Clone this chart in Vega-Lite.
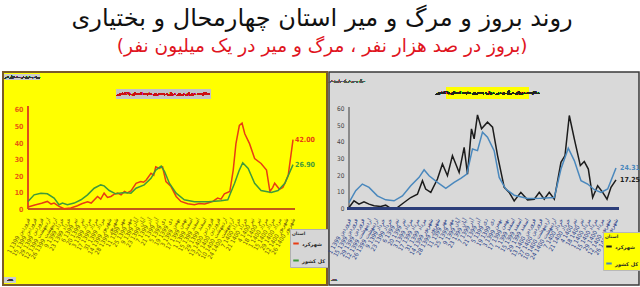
{
  "$schema": "https://vega.github.io/schema/vega-lite/v6.json",
  "background": "white",
  "padding": {"left": 2, "top": 6, "right": 0, "bottom": 0},
  "bounds": "flush",
  "title": {
    "text": "روند بروز و مرگ و میر استان چهارمحال و بختیاری",
    "subtitle": "(بروز در صد هزار نفر ، مرگ و میر در یک میلیون نفر)",
    "font": "DejaVu Sans", "fontSize": 24, "fontWeight": "normal", "color": "#111111",
    "subtitleFont": "DejaVu Sans", "subtitleFontSize": 18.5, "subtitleColor": "#e0141e",
    "subtitlePadding": 6, "anchor": "middle", "offset": 16
  },
  "config": {
    "font": "DejaVu Sans",
    "axis": {"labelFont": "DejaVu Sans Condensed, DejaVu Sans"}
  },
  "datasets": {
    "left": [
      {"s": "شهرکرد", "w": 0, "v": 1.2}, {"s": "شهرکرد", "w": 1.0, "v": 2.4}, {"s": "شهرکرد", "w": 2.0, "v": 3.5}, {"s": "شهرکرد", "w": 2.85, "v": 4.6},
      {"s": "شهرکرد", "w": 3.4, "v": 3.0}, {"s": "شهرکرد", "w": 3.84, "v": 3.6}, {"s": "شهرکرد", "w": 4.57, "v": 1.6}, {"s": "شهرکرد", "w": 5.31, "v": 0.2},
      {"s": "شهرکرد", "w": 6.3, "v": 0.6}, {"s": "شهرکرد", "w": 7.28, "v": 2.0}, {"s": "شهرکرد", "w": 7.9, "v": 3.2}, {"s": "شهرکرد", "w": 8.76, "v": 4.4},
      {"s": "شهرکرد", "w": 9.3, "v": 3.6}, {"s": "شهرکرد", "w": 10.23, "v": 7.6}, {"s": "شهرکرد", "w": 10.7, "v": 6.0}, {"s": "شهرکرد", "w": 11.2, "v": 9.6},
      {"s": "شهرکرد", "w": 11.7, "v": 7.0}, {"s": "شهرکرد", "w": 12.2, "v": 7.6}, {"s": "شهرکرد", "w": 12.7, "v": 9.0}, {"s": "شهرکرد", "w": 13.2, "v": 9.6},
      {"s": "شهرکرد", "w": 13.7, "v": 8.6}, {"s": "شهرکرد", "w": 14.2, "v": 10.6}, {"s": "شهرکرد", "w": 14.6, "v": 9.8}, {"s": "شهرکرد", "w": 15.15, "v": 11.0},
      {"s": "شهرکرد", "w": 15.9, "v": 15.6}, {"s": "شهرکرد", "w": 16.6, "v": 16.6}, {"s": "شهرکرد", "w": 17.0, "v": 16.2}, {"s": "شهرکرد", "w": 17.4, "v": 17.6},
      {"s": "شهرکرد", "w": 18.1, "v": 21.6}, {"s": "شهرکرد", "w": 18.5, "v": 20.5}, {"s": "شهرکرد", "w": 18.8, "v": 25.6}, {"s": "شهرکرد", "w": 19.3, "v": 24.6},
      {"s": "شهرکرد", "w": 19.8, "v": 25.6}, {"s": "شهرکرد", "w": 20.3, "v": 16.6}, {"s": "شهرکرد", "w": 21.05, "v": 13.6}, {"s": "شهرکرد", "w": 21.8, "v": 7.6},
      {"s": "شهرکرد", "w": 22.5, "v": 4.6}, {"s": "شهرکرد", "w": 23.5, "v": 3.2}, {"s": "شهرکرد", "w": 24.5, "v": 2.6}, {"s": "شهرکرد", "w": 25.2, "v": 3.3},
      {"s": "شهرکرد", "w": 26.0, "v": 3.0}, {"s": "شهرکرد", "w": 26.6, "v": 3.8}, {"s": "شهرکرد", "w": 27.2, "v": 4.6}, {"s": "شهرکرد", "w": 27.9, "v": 6.6},
      {"s": "شهرکرد", "w": 28.4, "v": 6.0}, {"s": "شهرکرد", "w": 28.9, "v": 9.2}, {"s": "شهرکرد", "w": 29.7, "v": 10.6}, {"s": "شهرکرد", "w": 30.2, "v": 23.6},
      {"s": "شهرکرد", "w": 30.6, "v": 39.6}, {"s": "شهرکرد", "w": 31.1, "v": 50.6}, {"s": "شهرکرد", "w": 31.5, "v": 52.0}, {"s": "شهرکرد", "w": 31.9, "v": 45.6},
      {"s": "شهرکرد", "w": 32.6, "v": 39.6}, {"s": "شهرکرد", "w": 33.35, "v": 30.6}, {"s": "شهرکرد", "w": 34.3, "v": 27.6}, {"s": "شهرکرد", "w": 35.1, "v": 23.6},
      {"s": "شهرکرد", "w": 35.6, "v": 10.6}, {"s": "شهرکرد", "w": 36.0, "v": 13.0}, {"s": "شهرکرد", "w": 36.3, "v": 15.6}, {"s": "شهرکرد", "w": 37.0, "v": 12.0},
      {"s": "شهرکرد", "w": 37.5, "v": 13.0}, {"s": "شهرکرد", "w": 37.8, "v": 15.6}, {"s": "شهرکرد", "w": 38.3, "v": 20.6}, {"s": "شهرکرد", "w": 39, "v": 42.0},
      {"s": "کل کشور", "w": 0, "v": 4.6}, {"s": "کل کشور", "w": 0.9, "v": 8.6}, {"s": "کل کشور", "w": 1.9, "v": 9.6}, {"s": "کل کشور", "w": 2.85, "v": 9.2},
      {"s": "کل کشور", "w": 3.84, "v": 6.6}, {"s": "کل کشور", "w": 4.57, "v": 2.6}, {"s": "کل کشور", "w": 5.07, "v": 3.6}, {"s": "کل کشور", "w": 5.8, "v": 2.6},
      {"s": "کل کشور", "w": 6.8, "v": 3.6}, {"s": "کل کشور", "w": 7.8, "v": 5.6}, {"s": "کل کشور", "w": 8.76, "v": 8.6}, {"s": "کل کشور", "w": 9.74, "v": 12.6},
      {"s": "کل کشور", "w": 10.7, "v": 14.6}, {"s": "کل کشور", "w": 11.2, "v": 14.0}, {"s": "کل کشور", "w": 11.95, "v": 11.2}, {"s": "کل کشور", "w": 12.9, "v": 9.2},
      {"s": "کل کشور", "w": 14.2, "v": 10.0}, {"s": "کل کشور", "w": 15.15, "v": 9.6}, {"s": "کل کشور", "w": 15.9, "v": 12.6}, {"s": "کل کشور", "w": 17.1, "v": 14.6},
      {"s": "کل کشور", "w": 18.1, "v": 18.6}, {"s": "کل کشور", "w": 18.8, "v": 23.6}, {"s": "کل کشور", "w": 19.6, "v": 26.0}, {"s": "کل کشور", "w": 20.1, "v": 22.6},
      {"s": "کل کشور", "w": 20.8, "v": 15.6}, {"s": "کل کشور", "w": 21.8, "v": 9.6}, {"s": "کل کشور", "w": 23.0, "v": 5.6}, {"s": "کل کشور", "w": 24.5, "v": 4.4},
      {"s": "کل کشور", "w": 26.5, "v": 4.4}, {"s": "کل کشور", "w": 28.4, "v": 5.0}, {"s": "کل کشور", "w": 29.4, "v": 5.6}, {"s": "کل کشور", "w": 30.4, "v": 15.6},
      {"s": "کل کشور", "w": 31.1, "v": 23.6}, {"s": "کل کشور", "w": 31.6, "v": 28.0}, {"s": "کل کشور", "w": 32.4, "v": 24.6}, {"s": "کل کشور", "w": 33.35, "v": 15.6},
      {"s": "کل کشور", "w": 34.3, "v": 11.2}, {"s": "کل کشور", "w": 35.8, "v": 10.0}, {"s": "کل کشور", "w": 36.8, "v": 11.2}, {"s": "کل کشور", "w": 37.8, "v": 15.6},
      {"s": "کل کشور", "w": 39, "v": 26.9}
    ],
    "right": [
      {"s": "شهرکرد", "w": 0, "v": 0.6}, {"s": "شهرکرد", "w": 0.73, "v": 4.6}, {"s": "شهرکرد", "w": 1.46, "v": 2.6}, {"s": "شهرکرد", "w": 2.19, "v": 4.0},
      {"s": "شهرکرد", "w": 2.93, "v": 2.6}, {"s": "شهرکرد", "w": 3.66, "v": 1.6}, {"s": "شهرکرد", "w": 4.63, "v": 1.2}, {"s": "شهرکرد", "w": 5.36, "v": 2.0},
      {"s": "شهرکرد", "w": 6.09, "v": 0.0}, {"s": "شهرکرد", "w": 7.07, "v": 0.6}, {"s": "شهرکرد", "w": 8.04, "v": 3.6}, {"s": "شهرکرد", "w": 9.02, "v": 6.6},
      {"s": "شهرکرد", "w": 10.0, "v": 8.6}, {"s": "شهرکرد", "w": 10.73, "v": 16.7}, {"s": "شهرکرد", "w": 11.2, "v": 11.7}, {"s": "شهرکرد", "w": 11.95, "v": 9.7},
      {"s": "شهرکرد", "w": 12.92, "v": 17.7}, {"s": "شهرکرد", "w": 13.65, "v": 26.8}, {"s": "شهرکرد", "w": 14.38, "v": 19.7}, {"s": "شهرکرد", "w": 15.11, "v": 31.8},
      {"s": "شهرکرد", "w": 16.09, "v": 21.7}, {"s": "شهرکرد", "w": 16.82, "v": 36.8}, {"s": "شهرکرد", "w": 17.31, "v": 20.7}, {"s": "شهرکرد", "w": 17.89, "v": 47.9},
      {"s": "شهرکرد", "w": 18.28, "v": 41.9}, {"s": "شهرکرد", "w": 18.77, "v": 56.3}, {"s": "شهرکرد", "w": 19.36, "v": 47.9}, {"s": "شهرکرد", "w": 20.23, "v": 51.9},
      {"s": "شهرکرد", "w": 20.97, "v": 48.9}, {"s": "شهرکرد", "w": 21.7, "v": 31.8}, {"s": "شهرکرد", "w": 22.67, "v": 12.7}, {"s": "شهرکرد", "w": 23.4, "v": 9.7},
      {"s": "شهرکرد", "w": 24.13, "v": 4.6}, {"s": "شهرکرد", "w": 25.1, "v": 9.7}, {"s": "شهرکرد", "w": 26.08, "v": 5.2}, {"s": "شهرکرد", "w": 27.06, "v": 5.6},
      {"s": "شهرکرد", "w": 27.79, "v": 9.7}, {"s": "شهرکرد", "w": 28.52, "v": 5.6}, {"s": "شهرکرد", "w": 29.25, "v": 9.7}, {"s": "شهرکرد", "w": 29.99, "v": 5.6},
      {"s": "شهرکرد", "w": 30.96, "v": 27.8}, {"s": "شهرکرد", "w": 31.55, "v": 31.8}, {"s": "شهرکرد", "w": 32.18, "v": 55.9}, {"s": "شهرکرد", "w": 32.91, "v": 41.9},
      {"s": "شهرکرد", "w": 33.79, "v": 25.8}, {"s": "شهرکرد", "w": 34.37, "v": 28.2}, {"s": "شهرکرد", "w": 34.96, "v": 23.7}, {"s": "شهرکرد", "w": 35.59, "v": 6.6},
      {"s": "شهرکرد", "w": 36.32, "v": 13.7}, {"s": "شهرکرد", "w": 37.06, "v": 9.7}, {"s": "شهرکرد", "w": 37.69, "v": 5.6}, {"s": "شهرکرد", "w": 38.27, "v": 12.7},
      {"s": "شهرکرد", "w": 39, "v": 17.25},
      {"s": "کل کشور", "w": 0, "v": 3.6}, {"s": "کل کشور", "w": 0.98, "v": 10.7}, {"s": "کل کشور", "w": 1.95, "v": 14.7}, {"s": "کل کشور", "w": 2.93, "v": 12.7},
      {"s": "کل کشور", "w": 4.14, "v": 7.6}, {"s": "کل کشور", "w": 5.36, "v": 5.2}, {"s": "کل کشور", "w": 6.58, "v": 4.6}, {"s": "کل کشور", "w": 7.8, "v": 7.6},
      {"s": "کل کشور", "w": 9.02, "v": 13.7}, {"s": "کل کشور", "w": 10.24, "v": 18.7}, {"s": "کل کشور", "w": 10.97, "v": 23.3}, {"s": "کل کشور", "w": 11.7, "v": 19.7},
      {"s": "کل کشور", "w": 12.92, "v": 15.7}, {"s": "کل کشور", "w": 14.14, "v": 12.1}, {"s": "کل کشور", "w": 15.36, "v": 15.7}, {"s": "کل کشور", "w": 16.33, "v": 18.1},
      {"s": "کل کشور", "w": 17.21, "v": 20.7}, {"s": "کل کشور", "w": 18.04, "v": 35.8}, {"s": "کل کشور", "w": 18.77, "v": 34.8}, {"s": "کل کشور", "w": 19.5, "v": 45.9},
      {"s": "کل کشور", "w": 20.23, "v": 42.9}, {"s": "کل کشور", "w": 21.2, "v": 34.8}, {"s": "کل کشور", "w": 21.94, "v": 18.7}, {"s": "کل کشور", "w": 22.9, "v": 11.7},
      {"s": "کل کشور", "w": 24.13, "v": 8.0}, {"s": "کل کشور", "w": 26.08, "v": 6.0}, {"s": "کل کشور", "w": 28.03, "v": 6.2}, {"s": "کل کشور", "w": 29.99, "v": 6.6},
      {"s": "کل کشور", "w": 30.96, "v": 23.7}, {"s": "کل کشور", "w": 32.03, "v": 36.2}, {"s": "کل کشور", "w": 32.91, "v": 28.8}, {"s": "کل کشور", "w": 33.89, "v": 16.7},
      {"s": "کل کشور", "w": 34.86, "v": 14.7}, {"s": "کل کشور", "w": 35.84, "v": 11.3}, {"s": "کل کشور", "w": 36.81, "v": 9.7}, {"s": "کل کشور", "w": 37.79, "v": 11.7},
      {"s": "کل کشور", "w": 39, "v": 24.31}
    ],
    "grid": [{"g": 10}, {"g": 20}, {"g": 30}, {"g": 40}, {"g": 50}, {"g": 60}]
  },
  "spacing": 2,
  "resolve": {"scale": {"x": "independent", "y": "independent", "color": "independent"}, "legend": {"color": "independent"}},
  "hconcat": [
    {
      "width": 324, "height": 213,
      "view": {"fill": "#ffff00", "stroke": "#7a5a2a", "strokeWidth": 2},
      "encoding": {
        "x": {"field": "w", "type": "quantitative", "scale": {"domain": [-3.68, 44.0], "nice": false, "zero": false},
          "axis": {"values": [0,1,2,3,4,5,6,7,8,9,10,11,12,13,14,15,16,17,18,19,20,21,22,23,24,25,26,27,28,29,30,31,32,33,34,35,36,37,38,39],
            "labelExpr": "['1 فروردین 1399','15 فروردین 1399','29 فروردین 1399','12 اردیبهشت 1399','26 اردیبهشت 1399','9 خرداد 1399','23 خرداد 1399','6 تیر 1399','20 تیر 1399','3 مرداد 1399','17 مرداد 1399','31 مرداد 1399','14 شهریور 1399','28 شهریور 1399','11 مهر 1399','25 مهر 1399','9 آبان 1399','23 آبان 1399','7 آذر 1399','21 آذر 1399','5 دی 1399','19 دی 1399','3 بهمن 1399','17 بهمن 1399','1 اسفند 1399','15 اسفند 1399','29 اسفند 1399','13 فروردین 1400','27 فروردین 1400','10 اردیبهشت 1400','24 اردیبهشت 1400','7 خرداد 1400','21 خرداد 1400','4 تیر 1400','18 تیر 1400','1 مرداد 1400','15 مرداد 1400','29 مرداد 1400','12 شهریور 1400','26 شهریور 1400'][datum.value]",
            "labelAngle": -60, "labelAlign": "right", "labelBaseline": "middle", "labelFontSize": 6, "labelColor": "#6b5a10",
            "labelPadding": 9, "labelOverlap": false, "labelFlush": false, "domain": false, "ticks": false, "grid": false, "offset": -76, "title": null}},
        "y": {"field": "v", "type": "quantitative", "scale": {"domain": [-46.06, 83.03], "nice": false, "zero": false},
          "axis": {"values": [0,10,20,30,40,50,60], "domain": false, "ticks": false, "grid": false, "offset": -25,
            "labelFontSize": 7, "labelFontWeight": "bold", "labelColor": "#e85a10", "labelPadding": 5, "title": null}}
      },
      "layer": [
        {"data": {"name": "grid"}, "mark": {"type": "rule", "color": "#f6f3b4", "strokeWidth": 1},
          "encoding": {"x": {"datum": 0}, "x2": {"datum": 39.2}, "y": {"field": "g", "type": "quantitative"}}},
        {"data": {"name": "left"}, "mark": {"type": "rule", "color": "#e0501a", "strokeWidth": 1.5},
          "encoding": {"x": {"datum": 0}, "y": {"datum": 0}, "y2": {"datum": 62}}},
        {"data": {"name": "left"}, "mark": {"type": "rule", "color": "#c05a1a", "strokeWidth": 1.5},
          "encoding": {"x": {"datum": 0}, "x2": {"datum": 39.2}, "y": {"datum": 0}}},
        {"data": {"name": "left"}, "mark": {"type": "line", "strokeWidth": 1.5},
          "encoding": {"color": {"field": "s", "type": "nominal",
            "scale": {"domain": ["شهرکرد", "کل کشور"], "range": ["#e83c14", "#3f9a3a"]},
            "legend": {"title": "استان", "titleFontSize": 4.5, "titleColor": "#333333", "titlePadding": 4, "orient": "none", "legendX": 287, "legendY": 157,
              "fillColor": "#d6d6d6", "strokeColor": "#b0b0b0", "padding": 2, "labelFontSize": 5, "labelFontWeight": "bold", "labelColor": "#222222", "labelOffset": 2,
              "symbolType": "stroke", "symbolStrokeWidth": 2, "symbolSize": 30, "rowPadding": 9}}}},
        {"data": {"name": "left"}, "transform": [{"filter": "datum.w == 39"}],
          "mark": {"type": "text", "align": "left", "dx": 2, "fontSize": 7, "fontWeight": "bold", "font": "DejaVu Sans Condensed, DejaVu Sans"},
          "encoding": {"text": {"field": "v", "type": "quantitative", "format": ".2f"}, "color": {"field": "s", "type": "nominal", "legend": null}}},
        {"data": {"name": "left"}, "mark": {"type": "rect", "color": "#c4c4c4"},
          "encoding": {"x": {"datum": 12.95}, "x2": {"datum": 26.93}, "y": {"datum": 72.7}, "y2": {"datum": 66.7}}},
        {"data": {"name": "left"}, "mark": {"type": "text", "color": "#d01010", "fontSize": 3.9, "fontWeight": "bold", "font": "DejaVu Sans Condensed, DejaVu Sans"},
          "encoding": {"x": {"datum": 19.94}, "y": {"datum": 69.7}, "text": {"value": "مقایسه میزان بروز موارد بستری مثبت استان با کشور"}}},
        {"data": {"name": "left"}, "mark": {"type": "rect", "color": "#cccccc"},
          "encoding": {"x": {"datum": -3.4}, "x2": {"datum": 1.7}, "y": {"datum": 81.8}, "y2": {"datum": 78.6}}},
        {"data": {"name": "left"}, "mark": {"type": "text", "color": "#333333", "fontSize": 3},
          "encoding": {"x": {"datum": -0.85}, "y": {"datum": 80.2}, "text": {"value": "روند بستری در صد هزار نفر"}}},
        {"data": {"name": "left"}, "mark": {"type": "rect", "color": "#cccccc"},
          "encoding": {"x": {"datum": -3.4}, "x2": {"datum": -1.9}, "y": {"datum": -41.2}, "y2": {"datum": -44.8}}},
        {"data": {"name": "left"}, "mark": {"type": "text", "color": "#333333", "fontSize": 3},
          "encoding": {"x": {"datum": -2.65}, "y": {"datum": -43.0}, "text": {"value": "هفته"}}}
      ]
    },
    {
      "width": 310, "height": 213,
      "view": {"fill": "#d9d9d9", "stroke": "#3a3a3a", "strokeWidth": 1.5},
      "encoding": {
        "x": {"field": "w", "type": "quantitative", "scale": {"domain": [-2.92, 42.36], "nice": false, "zero": false},
          "axis": {"values": [0,1,2,3,4,5,6,7,8,9,10,11,12,13,14,15,16,17,18,19,20,21,22,23,24,25,26,27,28,29,30,31,32,33,34,35,36,37,38,39],
            "labelExpr": "['1 فروردین 1399','15 فروردین 1399','29 فروردین 1399','12 اردیبهشت 1399','26 اردیبهشت 1399','9 خرداد 1399','23 خرداد 1399','6 تیر 1399','20 تیر 1399','3 مرداد 1399','17 مرداد 1399','31 مرداد 1399','14 شهریور 1399','28 شهریور 1399','11 مهر 1399','25 مهر 1399','9 آبان 1399','23 آبان 1399','7 آذر 1399','21 آذر 1399','5 دی 1399','19 دی 1399','3 بهمن 1399','17 بهمن 1399','1 اسفند 1399','15 اسفند 1399','29 اسفند 1399','13 فروردین 1400','27 فروردین 1400','10 اردیبهشت 1400','24 اردیبهشت 1400','7 خرداد 1400','21 خرداد 1400','4 تیر 1400','18 تیر 1400','1 مرداد 1400','15 مرداد 1400','29 مرداد 1400','12 شهریور 1400','26 شهریور 1400'][datum.value]",
            "labelAngle": -60, "labelAlign": "right", "labelBaseline": "middle", "labelFontSize": 6, "labelColor": "#2a3f8a",
            "labelPadding": 10, "labelOverlap": false, "labelFlush": false, "domain": false, "ticks": false, "grid": false, "offset": -76.5, "title": null}},
        "y": {"field": "v", "type": "quantitative", "scale": {"domain": [-46.0, 82.07], "nice": false, "zero": false},
          "axis": {"values": [0,10,20,30,40,50,60], "domain": false, "ticks": false, "grid": false, "offset": -20,
            "labelFontSize": 6.5, "labelColor": "#444444", "labelPadding": 5, "title": null}}
      },
      "layer": [
        {"data": {"name": "right"}, "mark": {"type": "rule", "color": "#8a8a8a", "strokeWidth": 1},
          "encoding": {"x": {"datum": 0}, "y": {"datum": 0}, "y2": {"datum": 61}}},
        {"data": {"name": "right"}, "mark": {"type": "line", "strokeWidth": 1.5},
          "encoding": {"color": {"field": "s", "type": "nominal",
            "scale": {"domain": ["شهرکرد", "کل کشور"], "range": ["#1c1c1c", "#4a88bd"]},
            "legend": {"title": "استان", "titleFontSize": 4.5, "titleColor": "#333333", "titlePadding": 4, "orient": "none", "legendX": 274, "legendY": 160,
              "fillColor": "#ffff00", "strokeColor": "#b8b8b8", "padding": 2, "labelFontSize": 5, "labelFontWeight": "bold", "labelColor": "#222222", "labelOffset": 2,
              "symbolType": "stroke", "symbolStrokeWidth": 2, "symbolSize": 30, "rowPadding": 9}}}},
        {"data": {"name": "right"}, "mark": {"type": "rule", "color": "#2c3e7a", "strokeWidth": 3},
          "encoding": {"x": {"datum": -0.2}, "x2": {"datum": 39.4}, "y": {"datum": 0}}},
        {"data": {"name": "right"}, "transform": [{"filter": "datum.w == 39"}],
          "mark": {"type": "text", "align": "left", "dx": 4, "fontSize": 7, "fontWeight": "bold", "font": "DejaVu Sans Condensed, DejaVu Sans"},
          "encoding": {"text": {"field": "v", "type": "quantitative", "format": ".2f"}, "color": {"field": "s", "type": "nominal", "legend": null}}},
        {"data": {"name": "right"}, "mark": {"type": "rect", "color": "#ffff00"},
          "encoding": {"x": {"datum": 14.17}, "x2": {"datum": 26.29}, "y": {"datum": 73.06}, "y2": {"datum": 65.85}}},
        {"data": {"name": "right"}, "mark": {"type": "text", "color": "#222222", "fontSize": 3.9, "fontWeight": "bold", "font": "DejaVu Sans Condensed, DejaVu Sans"},
          "encoding": {"x": {"datum": 20.23}, "y": {"datum": 69.5}, "text": {"value": "مقایسه میزان مرگ و میر موارد بستری مثبت استان با کشور"}}},
        {"data": {"name": "right"}, "mark": {"type": "text", "color": "#555555", "fontSize": 3},
          "encoding": {"x": {"datum": -0.3}, "y": {"datum": 77.0}, "text": {"value": "مرگ و میر در یک میلیون نفر"}}},
        {"data": {"name": "right"}, "mark": {"type": "text", "color": "#555555", "fontSize": 3},
          "encoding": {"x": {"datum": -2.2}, "y": {"datum": -43.0}, "text": {"value": "هفته"}}}
      ]
    }
  ]
}
